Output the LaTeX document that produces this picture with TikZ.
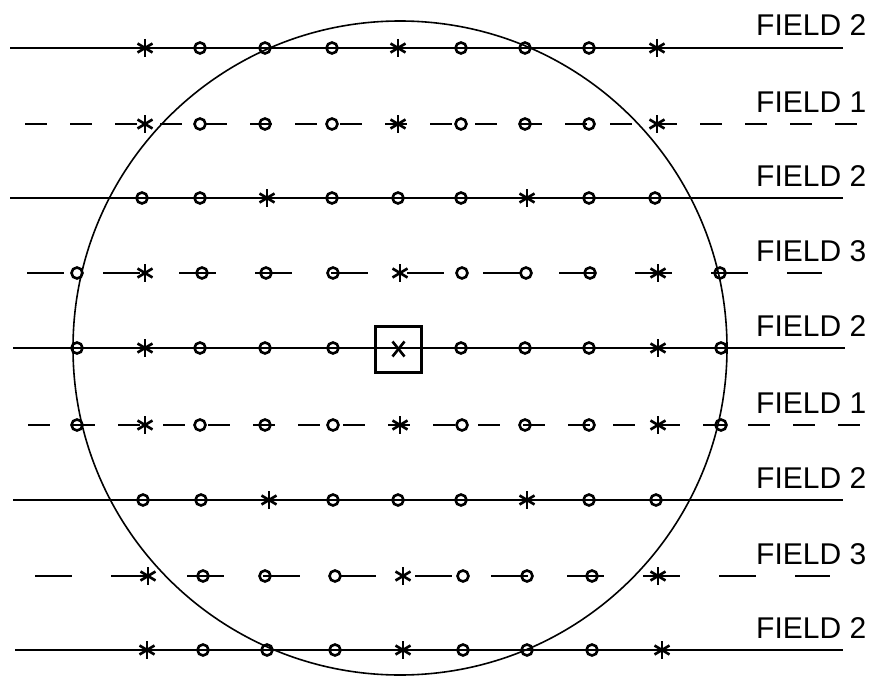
\documentclass[tikz,border=0pt]{standalone}
\usepackage{fontspec}
\setmainfont{Liberation Sans}
\begin{document}
\begin{tikzpicture}[x=1pt,y=-1pt,
  fieldline/.style={line width=2.1pt},
  fone/.style={fieldline, dash pattern=on 22pt off 23pt},
  fthree/.style={fieldline, dash pattern=on 37pt off 39pt},
  ring/.style={circle, draw, line width=2.6pt, minimum size=11pt, inner sep=0pt},
  ast/.style={minimum size=22pt, inner sep=0pt, path picture={
     \draw[line width=2.6pt] (path picture bounding box.center) ++(0,-9) -- ++(0,18);
     \draw[line width=2.6pt] (path picture bounding box.center) ++(-7.5,-4.5) -- ++(15,9);
     \draw[line width=2.6pt] (path picture bounding box.center) ++(-7.5,4.5) -- ++(15,-9);}},
  xmark/.style={minimum size=18pt, inner sep=0pt, path picture={
     \draw[line width=2.6pt] (path picture bounding box.center) ++(-6,-7.5) -- ++(12,15);
     \draw[line width=2.6pt] (path picture bounding box.center) ++(-6,7.5) -- ++(12,-15);}},
  target/.style={draw, line width=3pt, minimum size=46pt, inner sep=0pt},
  lbl/.style={anchor=base west, font=\fontsize{30}{30}\selectfont, inner sep=0pt},
  outline/.style={line width=1.6pt}
 ]
\useasboundingbox (0,0) rectangle (875,677);

% field of view
\node[circle, draw, outline, minimum size=654pt, inner sep=0pt] (fov) at (400,348) {};

% field lines
\coordinate (l1) at (10,48);  \coordinate (r1) at (843,48);
\coordinate (l2) at (25,124); \coordinate (r2) at (860,124);
\coordinate (l3) at (10,198); \coordinate (r3) at (843,198);
\coordinate (l4) at (27,273); \coordinate (r4) at (822,273);
\coordinate (l5) at (13,348); \coordinate (r5) at (845,348);
\coordinate (l6) at (28,425); \coordinate (r6) at (860,425);
\coordinate (l7) at (13,500); \coordinate (r7) at (843,500);
\coordinate (l8) at (35,576); \coordinate (r8) at (830,576);
\coordinate (l9) at (15,650); \coordinate (r9) at (843,650);
\draw[fieldline] (l1) -- (r1);
\draw[fone] (l2) -- (r2);
\draw[fieldline] (l3) -- (r3);
\draw[fthree] (l4) -- (r4);
\draw[fieldline] (l5) -- (r5);
\draw[fone] (l6) -- (r6);
\draw[fieldline] (l7) -- (r7);
\draw[fthree] (l8) -- (r8);
\draw[fieldline] (l9) -- (r9);

% labels
\node[lbl] (t1) at (756,36) {FIELD 2};
\node[lbl] (t2) at (756,112) {FIELD 1};
\node[lbl] (t3) at (756,186) {FIELD 2};
\node[lbl] (t4) at (756,261) {FIELD 3};
\node[lbl] (t5) at (756,336) {FIELD 2};
\node[lbl] (t6) at (756,413) {FIELD 1};
\node[lbl] (t7) at (756,488) {FIELD 2};
\node[lbl] (t8) at (756,564) {FIELD 3};
\node[lbl] (t9) at (756,638) {FIELD 2};

% markers
\foreach \y/\r/\list in {
  48/1/{145/ast,200/ring,265/ring,332/ring,398/ast,461/ring,525/ring,589/ring,657/ast},
  124/2/{145/ast,200/ring,265/ring,332/ring,398/ast,461/ring,525/ring,589/ring,657/ast},
  198/3/{142/ring,200/ring,267/ast,332/ring,398/ring,461/ring,527/ast,589/ring,655/ring},
  273/4/{77/ring,145/ast,202/ring,266/ring,333/ring,400/ast,462/ring,526/ring,590/ring,658/ast,720/ring},
  348/5/{77/ring,145/ast,200/ring,265/ring,333/ring,461/ring,525/ring,589/ring,658/ast,721/ring},
  425/6/{77/ring,145/ast,200/ring,265/ring,333/ring,400/ast,462/ring,525/ring,589/ring,658/ast,721/ring},
  500/7/{143/ring,201/ring,269/ast,333/ring,398/ring,461/ring,527/ast,589/ring,656/ring},
  576/8/{148/ast,203/ring,265/ring,335/ring,403/ast,463/ring,527/ring,592/ring,658/ast},
  650/9/{147/ast,203/ring,267/ring,335/ring,403/ast,463/ring,527/ring,592/ring,662/ast}}
{
  \foreach \x/\t [count=\i] in \list {
    \node[\t] (m\r-\i) at (\x,\y) {};
  }
}

% central target
\node[target] (box) at (398.5,349) {};
\node[xmark] (cx) at (box.center) {};
\end{tikzpicture}
\end{document}
